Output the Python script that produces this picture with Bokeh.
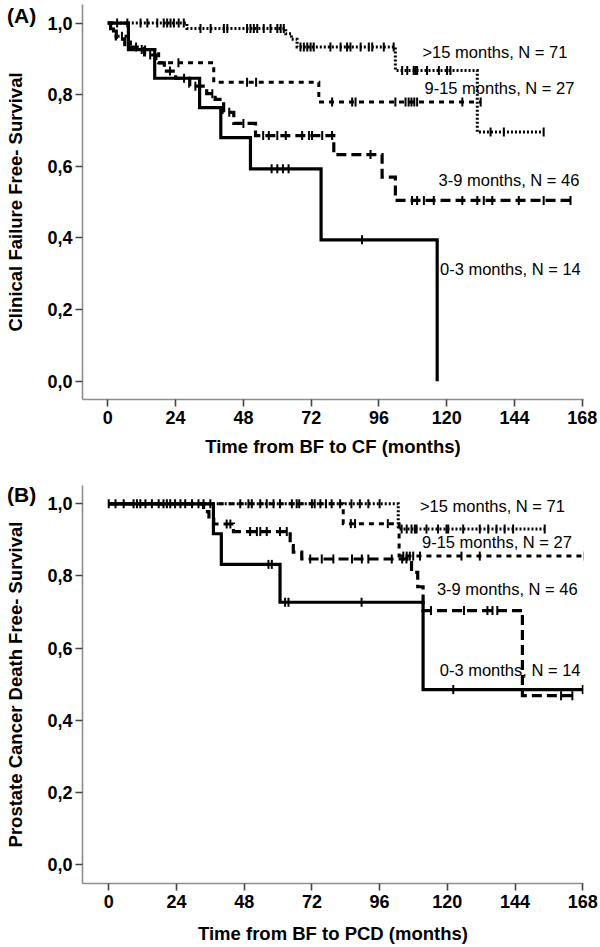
import numpy as np
from bokeh.plotting import figure
from bokeh.layouts import column
from bokeh.models import Range1d, FixedTicker, Label, Div
from bokeh.embed import file_html
from bokeh.resources import INLINE

# ---------------- data ----------------
x_ticks = [0, 24, 48, 72, 96, 120, 144, 168]
y_ticks = [0.0, 0.2, 0.4, 0.6, 0.8, 1.0]
y_tick_labels = ["0,0", "0,2", "0,4", "0,6", "0,8", "1,0"]
group_labels = ["0-3 months, N = 14", "3-9 months, N = 46", "9-15 months, N = 27", ">15 months, N = 71"]
panel_tags = ["(A)", "(B)"]

# Panel A: clinical failure free survival
a_t_03 = [0, 7.3, 16.6, 32.5, 40.0, 50.5, 75.5, 116.6]
a_s_03 = [1.0, 0.926, 0.846, 0.764, 0.680, 0.593, 0.395, 0.0]
a_c_03 = [58, 60, 62, 64, 90]

a_t_39 = [0, 1, 3, 6, 13, 17, 20, 24, 29, 35, 38, 41, 44.6, 52.3, 80, 97.1, 101.8, 163.8]
a_s_39 = [1.0, 0.978, 0.956, 0.933, 0.911, 0.889, 0.866, 0.846, 0.824, 0.803, 0.787, 0.751,
          0.72, 0.686, 0.633, 0.57, 0.505, 0.505]
a_c_39 = [10, 15, 22, 27, 31, 37, 43, 48, 55, 57, 60, 63, 68.8, 71.2, 72.3, 75.9, 79.4, 93,
          107.7, 109.5, 111.9, 115.4, 125.5, 130.8, 133.1, 136.1, 145.5, 154.3, 163.8]

a_t_915 = [0, 2, 8, 18, 37.5, 74.7, 132]
a_s_915 = [1.0, 0.963, 0.926, 0.889, 0.835, 0.78, 0.78]
a_c_915 = [5, 12, 25, 49.3, 52.5, 79.4, 86.5, 87.7, 101.8, 105.4, 106.5, 107.5, 108.5, 109.5,
           125.5, 132]

a_t_15 = [0, 28, 63, 65, 67, 101.8, 130.8, 154.3]
a_s_15 = [1.0, 0.985, 0.97, 0.955, 0.933, 0.868, 0.696, 0.696]
a_c_15 = [3.3, 6.9, 11.6, 14, 17.5, 19.8, 21, 22.2, 23.4, 25.1, 26.9,
          32.8, 36.4, 41.1, 42.3, 49.3, 50.5, 51.7, 52.9, 55.2, 57.6, 60, 61.2, 62.3,
          68.2, 69.4, 70.6, 71.8, 72.9, 78.8, 82.4, 84.7, 85.9, 89.5, 92.4, 93.6, 97.7, 101.2,
          104.2, 106, 108.3, 108.9, 109.5, 113, 117.2, 120.1, 121.3,
          135.5, 140.2, 154.3]

# Panel B: prostate cancer death free survival
b_t_03 = [0, 37.1, 39.9, 60.7, 111.4, 168]
b_s_03 = [1.0, 0.917, 0.832, 0.727, 0.485, 0.485]
b_c_03 = [56.6, 57.8, 62.5, 63.7, 89.6, 122.1, 168]

b_t_39 = [0, 33.6, 35.5, 37.2, 44.2, 64.3, 65.4, 68.4, 107.3, 109.5, 111.4, 146.6, 164.3]
b_s_39 = [1.0, 0.978, 0.957, 0.944, 0.923, 0.884, 0.866, 0.847, 0.81, 0.77, 0.704, 0.468, 0.468]
b_c_39 = [0, 5.3, 11.2, 19.4, 41.8, 43.1, 50.1, 52.5, 53.7, 56, 60.7, 63.1, 71.4, 75.5, 79.6,
          86.2, 89.7, 92, 100.3, 104, 105.5, 114.2, 125.9, 134.2, 136, 137.7, 160.3, 164.3]

b_t_915 = [0, 83.1, 102.9, 168.6]
b_s_915 = [1.0, 0.945, 0.855, 0.855]
b_c_915 = [2.4, 10, 17.7, 25.4, 33.6, 49.5, 58.4, 67.5, 75, 82, 85.8, 87.3, 98.9,
           104.4, 105.6, 106.7, 107.9, 110.3, 125, 131.5, 168.6]

b_t_15 = [0, 102.6, 154.5]
b_s_15 = [1.0, 0.93, 0.93]
b_c_15 = [8.8, 13, 15.3, 20.6, 21.8, 23.5, 27.1, 29.5, 31.8, 36, 46.6, 50.7, 53.7, 56, 60.7,
          64.9, 66.6, 72, 73, 77, 79, 86, 89, 92, 96,
          103.8, 105.6, 107.3, 108.5, 109.1, 112.6, 116.7, 119.7, 120.3, 125.6, 131.5, 134.5,
          137.4, 140.3, 143.3, 154.5]

# label anchor points (months, survival)
a_label_x = [117.6, 117.1, 112.1, 111.4]
a_label_y = [0.314, 0.561, 0.820, 0.918]
b_label_x = [117.3, 116.3, 111.0, 110.3]
b_label_y = [0.540, 0.765, 0.893, 0.995]

FONT = "Liberation Sans"
styles = [
    dict(line_width=3.2, line_dash="solid"),
    dict(line_width=3.2, line_dash="10 5"),
    dict(line_width=3.0, line_dash="5 5"),
    dict(line_width=3.0, line_dash="2 2"),
]


def surv_at(times, surv, ts):
    times = np.asarray(times, float)
    surv = np.asarray(surv, float)
    idx = np.searchsorted(times, np.asarray(ts, float), side="right") - 1
    idx = np.clip(idx, 0, len(surv) - 1)
    return surv[idx]


def make_panel(height, frame_top, frame_bottom_border, xr, yr, right_border, curves,
               label_x, label_y, xlabel, ylabel, xlabel_standoff):
    p = figure(width=600, height=height, x_range=Range1d(*xr), y_range=Range1d(*yr),
               output_backend="svg", toolbar_location=None,
               min_border_left=82, min_border_right=right_border,
               min_border_top=frame_top, min_border_bottom=frame_bottom_border)
    p.outline_line_color = None
    p.xgrid.visible = False
    p.ygrid.visible = False
    p.background_fill_color = "white"
    p.border_fill_color = "white"

    for ax in (p.xaxis[0], p.yaxis[0]):
        ax.axis_line_color = "#8e8e8e"
        ax.axis_line_width = 1.6
        ax.major_tick_line_color = "#444444"
        ax.major_tick_line_width = 1.6
        ax.major_tick_out = 7
        ax.major_tick_in = 0
        ax.minor_tick_line_color = None
        ax.major_label_text_font = FONT
        ax.major_label_text_font_style = "bold"
        ax.major_label_text_font_size = "18px"
        ax.major_label_text_color = "black"
        ax.axis_label_text_font = FONT
        ax.axis_label_text_font_style = "bold"
        ax.axis_label_text_font_size = "18.5px"
        ax.axis_label_text_color = "black"

    p.xaxis.ticker = FixedTicker(ticks=x_ticks)
    p.yaxis.ticker = FixedTicker(ticks=y_ticks)
    p.yaxis.major_label_overrides = {float(v): s for v, s in zip(y_ticks, y_tick_labels)}
    p.xaxis.major_label_standoff = 4
    p.yaxis.major_label_standoff = 3
    p.xaxis.axis_label = xlabel
    p.yaxis.axis_label = ylabel
    p.xaxis.axis_label_standoff = xlabel_standoff
    p.yaxis.axis_label_standoff = 18

    for (t, s, c), st in zip(curves, styles):
        p.step(x=t, y=s, mode="after", line_color="black", line_cap="butt",
               line_join="miter", **st)
        p.scatter(x=c, y=surv_at(t, s, c), marker="dash", angle=np.pi / 2, size=9,
                  line_color="black", line_width=2)

    for lx, ly, txt in zip(label_x, label_y, group_labels):
        p.add_layout(Label(x=lx, y=ly, text=txt, text_font=FONT, text_font_size="16.5px",
                           text_baseline="middle", text_align="left", text_color="black"))
    return p


pA = make_panel(470, 4, 71, (-8.96, 168.4), (-0.051, 1.052), 17,
                [(a_t_03, a_s_03, a_c_03), (a_t_39, a_s_39, a_c_39),
                 (a_t_915, a_s_915, a_c_915), (a_t_15, a_s_15, a_c_15)],
                a_label_x, a_label_y,
                "Time from BF to CF (months)", "Clinical Failure Free- Survival", 9)

pB = make_panel(477, 15, 64, (-9.30, 168.25), (-0.0527, 1.0507), 16,
                [(b_t_03, b_s_03, b_c_03), (b_t_39, b_s_39, b_c_39),
                 (b_t_915, b_s_915, b_c_915), (b_t_15, b_s_15, b_c_15)],
                b_label_x, b_label_y,
                "Time from BF to PCD (months)", "Prostate Cancer Death Free- Survival", 12)


def tag_div(text, top):
    return Div(text=text, width=40, height=26,
               styles={"position": "absolute", "left": "2px", "top": f"{top}px",
                       "font-family": FONT, "font-weight": "bold", "font-size": "21px",
                       "color": "black", "z-index": "10", "line-height": "24px"})


layout = column(pA, pB, tag_div(panel_tags[0], -1), tag_div(panel_tags[1], 478), spacing=0)

with open("out.html", "w") as f:
    f.write(file_html(layout, INLINE))
